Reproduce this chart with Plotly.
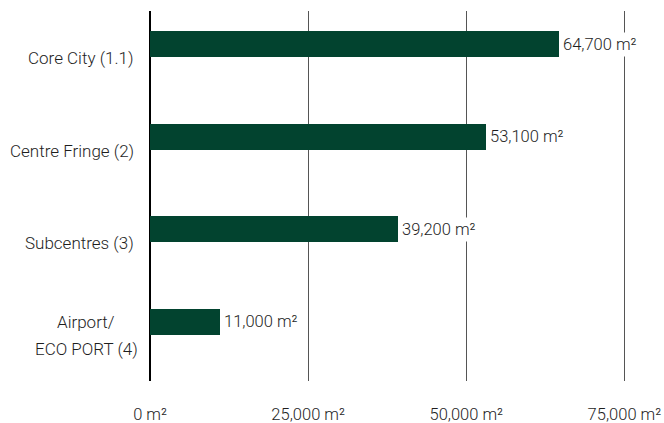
import plotly.graph_objects as go

categories = ["Core City (1.1)", "Centre Fringe (2)", "Subcentres (3)", "Airport/<br>ECO PORT (4)"]
values = [64700, 53100, 39200, 11000]
value_labels = ["64,700 m²", "53,100 m²", "39,200 m²", "11,000 m²"]
x_ticks = [0, 25000, 50000, 75000]
x_tick_labels = ["0 m²", "25,000 m²", "50,000 m²", "75,000 m²"]

bar_color = "#02432F"
text_color = "#1e1e1e"
font_family = "Roboto, Arial, sans-serif"
font_weight = 300

fig = go.Figure()
fig.add_trace(go.Bar(
    x=values,
    y=categories,
    orientation="h",
    marker=dict(color=bar_color, line=dict(width=0)),
    width=0.281,
    offset=-0.281,
    hoverinfo="skip",
))

# value labels with white background (interrupt gridlines)
for v, c, t in zip(values, categories, value_labels):
    fig.add_annotation(
        x=v, y=c, text=t, xref="x", yref="y",
        xanchor="left", yanchor="middle",
        xshift=1, yshift=13,
        showarrow=False, bgcolor="white", borderpad=2,
        font=dict(family=font_family, size=16.5, color=text_color, weight=font_weight),
    )

# category labels (multi-line ones centred as a block)
line_gap = 27
label_right = -14
for c in categories:
    lines = c.split("<br>")
    n = len(lines)
    for j, ln in enumerate(lines):
        fig.add_annotation(
            x=0, y=c, text=ln, xref="paper", yref="y",
            xanchor="right" if n == 1 else "center",
            yanchor="middle",
            xshift=label_right if n == 1 else -64,
            yshift=((n - 1) / 2 - j) * line_gap - 1,
            showarrow=False,
            font=dict(family=font_family, size=17, color=text_color, weight=font_weight),
        )

fig.update_layout(
    width=664, height=423,
    margin=dict(l=150, r=8, t=11, b=42),
    paper_bgcolor="white", plot_bgcolor="white",
    showlegend=False,
    font=dict(family=font_family, size=16.5, color=text_color, weight=font_weight),
    bargap=0,
)
fig.update_xaxes(
    range=[0, 80000],
    tickvals=x_ticks, ticktext=x_tick_labels,
    showgrid=True, gridcolor="#555555", gridwidth=1,
    zeroline=True, zerolinecolor="#000000", zerolinewidth=2,
    showline=False, ticks="", ticklabelstandoff=21,
    automargin=False,
    tickfont=dict(family=font_family, size=16.5, color=text_color, weight=font_weight),
)
fig.update_yaxes(
    type="category",
    categoryorder="array", categoryarray=categories,
    range=[3.5, -0.5],
    showgrid=False, zeroline=False, showline=False,
    showticklabels=False, ticks="", automargin=False,
)

fig.write_html("out.html")
